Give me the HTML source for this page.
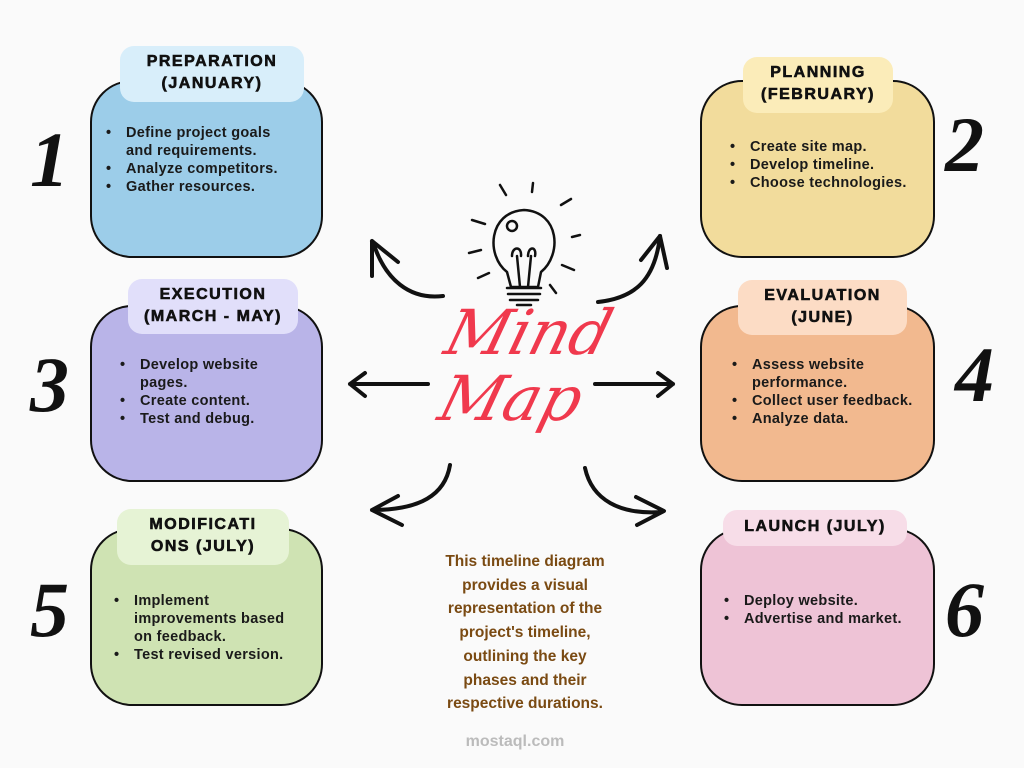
<!DOCTYPE html>
<html><head><meta charset="utf-8"><style>
*{margin:0;padding:0;box-sizing:border-box}
body{width:1024px;height:768px;background:#fafafa;position:relative;overflow:hidden;font-family:"Liberation Sans",sans-serif}
.box{position:absolute;border:2px solid #111;border-radius:42px}
.lab{position:absolute;border-radius:14px;text-align:center;font-weight:900;font-size:16px;letter-spacing:1.5px;line-height:22px;color:#111;padding-top:5px;-webkit-text-stroke:0.6px #111}
ul{position:absolute;font-size:14.5px;font-weight:bold;color:#1a1a1a;line-height:18px;list-style:none;letter-spacing:0.3px}
li{position:relative;padding-left:22px}
li:before{content:"•";position:absolute;left:2px}
.num{position:absolute;font-family:"Liberation Serif",serif;font-style:italic;font-size:78px;color:#111;font-weight:bold}
</style></head><body>
<div class="box" style="left:90px;top:80px;width:233px;height:178px;background:#9ccde9"></div>
<div class="lab" style="left:120px;top:46px;width:184px;height:56px;background:#d8eefa">PREPARATION<br>(JANUARY)</div>
<ul style="left:104px;top:124px"><li>Define project goals<br>and requirements.</li><li>Analyze competitors.</li><li>Gather resources.</li></ul>

<div class="box" style="left:700px;top:80px;width:235px;height:178px;background:#f2dc9c"></div>
<div class="lab" style="left:743px;top:57px;width:150px;height:56px;background:#fbecb9">PLANNING<br>(FEBRUARY)</div>
<ul style="left:728px;top:138px"><li>Create site map.</li><li>Develop timeline.</li><li>Choose technologies.</li></ul>

<div class="box" style="left:90px;top:305px;width:233px;height:177px;background:#b9b4e8"></div>
<div class="lab" style="left:128px;top:279px;width:170px;height:55px;background:#e1dffa">EXECUTION<br>(MARCH - MAY)</div>
<ul style="left:118px;top:356px"><li>Develop website<br>pages.</li><li>Create content.</li><li>Test and debug.</li></ul>

<div class="box" style="left:700px;top:305px;width:235px;height:177px;background:#f2b98f"></div>
<div class="lab" style="left:738px;top:280px;width:169px;height:55px;background:#fcdcc5">EVALUATION<br>(JUNE)</div>
<ul style="left:730px;top:356px"><li>Assess website<br>performance.</li><li>Collect user feedback.</li><li>Analyze data.</li></ul>

<div class="box" style="left:90px;top:528px;width:233px;height:178px;background:#cfe3b3"></div>
<div class="lab" style="left:117px;top:509px;width:172px;height:56px;background:#e6f3d5">MODIFICATI<br>ONS (JULY)</div>
<ul style="left:112px;top:592px"><li>Implement<br>improvements based<br>on feedback.</li><li>Test revised version.</li></ul>

<div class="box" style="left:700px;top:528px;width:235px;height:178px;background:#eec3d6"></div>
<div class="lab" style="left:723px;top:510px;width:184px;height:36px;background:#f7dde8;padding-top:6px">LAUNCH (JULY)</div>
<ul style="left:722px;top:592px"><li>Deploy website.</li><li>Advertise and market.</li></ul>

<div class="num" style="left:30px;top:115px">1</div>
<div class="num" style="left:945px;top:100px">2</div>
<div class="num" style="left:30px;top:340px">3</div>
<div class="num" style="left:955px;top:330px">4</div>
<div class="num" style="left:30px;top:565px">5</div>
<div class="num" style="left:945px;top:565px">6</div>

<div style="position:absolute;left:425px;top:550px;width:200px;text-align:center;font-size:15.5px;font-weight:bold;color:#7a4a12;line-height:23.7px">This timeline diagram<br>provides a visual<br>representation of the<br>project's timeline,<br>outlining the key<br>phases and their<br>respective durations.</div>
<div style="position:absolute;left:440px;top:733px;width:150px;text-align:center;font-size:16px;color:#bbb;font-weight:bold">mostaql.com</div>

<svg width="1024" height="768" style="position:absolute;left:0;top:0" fill="none" stroke="#111" stroke-width="4" stroke-linecap="round" stroke-linejoin="round">
<path d="M443 296 C410 300 385 280 373 242"/><path d="M372 241 L372 276 M372 241 L398 262"/>
<path d="M598 302 C635 298 655 280 660 236"/><path d="M660 236 L641 260 M660 236 L667 268"/>
<path d="M428 384 L350 384 M365 373 L350 384 L365 396"/>
<path d="M595 384 L673 384 M658 373 L673 384 L658 396"/>
<path d="M450 465 C445 495 420 510 372 510 M398 496 L372 510 L402 525"/>
<path d="M585 468 C592 500 620 515 662 512 M636 497 L664 511 L637 525"/>
<g stroke-width="2.5">
<path d="M507 272 C486 256 488 212 524 210 C560 212 562 255 541 272 L538 287 L511 287 Z"/>
<path d="M507 288 L541 288 M508 294 L540 294 M510 300 L538 300 M517 305 L531 305"/>
<path d="M517 256 L520 287 M531 256 L528 287 M512 256 C512 246 522 246 521 256 M528 256 C528 246 537 246 535 256"/>
<circle cx="512" cy="226" r="5"/>
<path d="M500 185 L506 195 M533 183 L532 192 M561 205 L571 199 M572 237 L580 235 M562 265 L574 270 M550 285 L556 293 M472 220 L485 224 M469 253 L481 250 M478 278 L489 273"/>
</g>
</svg>
<div style="position:absolute;left:415px;top:300px;width:210px;text-align:center;font-family:'DejaVu Serif',serif;font-style:italic;font-size:62px;line-height:66px;color:#f0394d;transform:skewX(-15deg)">Mind<br>Map</div>
</body></html>
